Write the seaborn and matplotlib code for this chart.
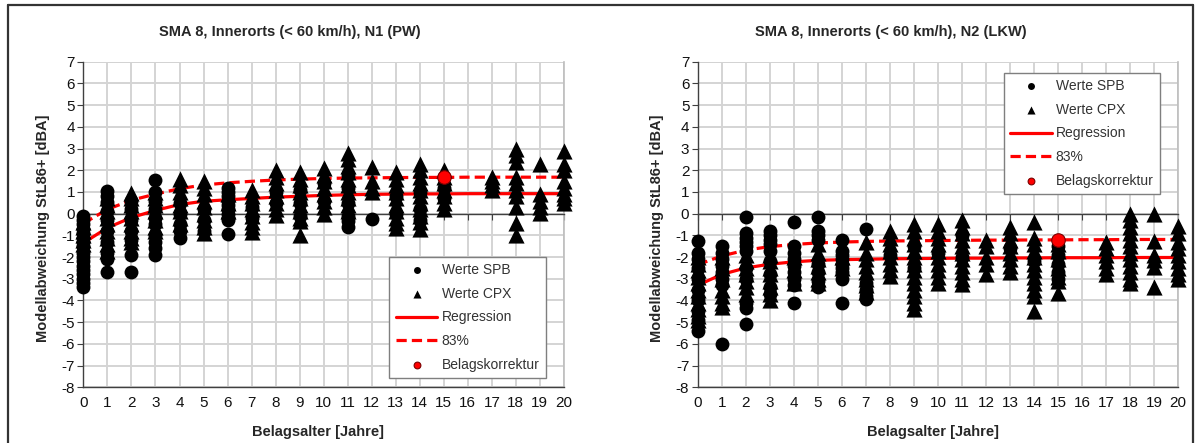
import matplotlib
matplotlib.use("Agg")
import matplotlib.pyplot as plt
from matplotlib.lines import Line2D
import numpy as np
import pandas as pd
import seaborn as sns

# ---------------------------------------------------------------- data
ages = list(range(21))

# N1 (PW) -- deviations per pavement age
pw_spb = {
    0: [-0.1, -0.3, -0.5, -0.7, -0.9, -1.1, -1.3, -1.5, -1.8, -2.0, -2.2, -2.4, -2.6, -2.8, -3.0, -3.2, -3.4],
    1: [1.05, 0.8, 0.55, 0.1, -0.3, -0.8, -1.3, -1.8, -2.1, -2.7],
    2: [0.6, 0.2, -0.3, -0.8, -1.2, -1.9, -2.7],
    3: [1.55, 1.0, 0.6, 0.2, -0.2, -0.5, -1.0, -1.3, -1.6, -1.9],
    4: [0.5, 0.0, -0.5, -0.8, -1.1],
    5: [0.2, -0.3, -0.8],
    6: [1.2, 1.0, 0.8, 0.6, 0.4, 0.2, 0.0, -0.2, -0.3, -0.95],
    7: [0.3, -0.2],
    8: [1.0, 0.5],
    9: [1.1, 0.5, -0.1],
    10: [1.4, 0.6],
    11: [1.8, 1.2, 0.5, -0.1, -0.35, -0.6],
    12: [-0.25],
    13: [0.8, 0.0],
    14: [1.0, 0.2, -0.3],
    15: [1.2, 0.7],
}
pw_cpx = {
    0: [-0.4, -0.6, -0.8, -1.0, -1.2, -1.4],
    1: [0.7, 0.4, 0.1, -0.2, -0.5, -0.8, -1.1, -1.4, -1.7],
    2: [0.95, 0.7, 0.4, 0.1, -0.2, -0.5, -0.8, -1.1, -1.3],
    3: [1.0, 0.7, 0.4, 0.1, -0.3, -0.6, -0.8],
    4: [1.6, 1.3, 1.0, 0.7, 0.4, 0.1, -0.2, -0.5],
    5: [1.5, 1.2, 0.9, 0.6, 0.3, 0.0, -0.3, -0.6, -0.9],
    6: [0.9, 0.5, 0.1],
    7: [1.1, 0.8, 0.5, 0.2, -0.1, -0.4, -0.6, -0.85],
    8: [2.0, 1.7, 1.4, 1.1, 0.8, 0.5, 0.2, -0.05],
    9: [1.9, 1.6, 1.3, 1.0, 0.7, 0.4, 0.1, -0.2, -0.35, -1.0],
    10: [2.1, 1.8, 1.5, 1.2, 0.9, 0.6, 0.3, 0.0],
    11: [2.8, 2.5, 2.2, 1.9, 1.6, 1.3, 1.0, 0.7, 0.4, 0.1],
    12: [2.15, 1.5, 1.2, 1.0],
    13: [1.9, 1.6, 1.3, 1.0, 0.7, 0.4, 0.1, -0.2, -0.45, -0.65],
    14: [2.3, 2.0, 1.7, 1.4, 1.1, 0.8, 0.5, 0.2, -0.1, -0.4, -0.7],
    15: [2.0, 1.7, 1.4, 1.1, 0.8, 0.5, 0.2],
    17: [1.7, 1.5, 1.3, 1.1],
    18: [3.0, 2.7, 2.4, 1.7, 1.4, 1.1, 0.8, 0.3, -0.45, -1.0],
    19: [2.3, 0.9, 0.6, 0.3, 0.05],
    20: [2.9, 2.3, 2.0, 1.5, 1.2, 0.9, 0.7, 0.5],
}
pw_reg = [-1.35, -0.65, -0.18, 0.15, 0.42, 0.57, 0.64, 0.70, 0.76, 0.80, 0.84, 0.87,
          0.89, 0.90, 0.91, 0.91, 0.92, 0.92, 0.92, 0.92, 0.92]
pw_p83 = [-0.45, 0.20, 0.62, 0.90, 1.15, 1.32, 1.42, 1.49, 1.55, 1.59, 1.62, 1.64,
          1.65, 1.66, 1.67, 1.67, 1.68, 1.68, 1.68, 1.68, 1.68]
pw_corr = (15, 1.7)

# N2 (LKW)
lkw_spb = {
    0: [-1.25, -1.8, -2.1, -2.5, -3.0, -3.5, -4.0, -4.5, -4.9, -5.4],
    1: [-1.5, -1.8, -2.1, -2.4, -2.7, -3.0, -3.3, -6.0],
    2: [-0.15, -0.9, -1.1, -1.3, -1.5, -1.7, -2.5, -3.0, -4.1, -4.35, -5.1],
    3: [-0.8, -1.0, -1.2, -1.4, -1.7, -2.2, -2.8, -3.4, -3.7],
    4: [-0.4, -1.5, -1.8, -2.1, -2.4, -2.7, -3.0, -3.3, -4.1],
    5: [-0.15, -0.8, -1.0, -1.2, -2.3, -2.7, -3.1, -3.4],
    6: [-1.2, -1.7, -1.9, -2.1, -2.3, -2.5, -2.7, -3.0, -4.1],
    7: [-0.7, -3.2, -3.5, -3.8, -3.95],
    8: [-1.9],
    9: [-1.5, -2.5],
    10: [-1.8],
    11: [-1.0, -2.0],
    13: [-1.6],
    14: [-2.2],
    15: [-1.5, -1.9, -2.3, -2.7, -3.0],
}
lkw_cpx = {
    0: [-2.0, -2.3, -2.6, -2.9, -3.2, -3.5, -3.8, -4.1, -4.4, -4.7, -4.9],
    1: [-2.0, -2.5, -3.0, -3.5, -3.8, -4.1, -4.3],
    2: [-1.9, -2.2, -2.5, -2.8, -3.1, -3.4, -3.7],
    3: [-1.9, -2.2, -2.5, -2.8, -3.1, -3.4, -3.7, -4.0],
    4: [-2.0, -2.6, -3.2],
    5: [-1.4, -1.8, -2.1, -2.4, -2.7, -3.0, -3.2],
    6: [-2.0, -2.5],
    7: [-1.3, -1.8, -2.1, -2.4, -2.7, -3.0, -3.3, -3.6],
    8: [-0.8, -1.1, -1.4, -1.7, -2.0, -2.3, -2.6, -2.85],
    9: [-0.5, -0.8, -1.1, -1.4, -1.7, -2.0, -2.3, -2.6, -2.9, -3.2, -3.5, -3.8, -4.1, -4.4],
    10: [-0.5, -0.8, -1.1, -1.4, -1.7, -2.0, -2.3, -2.6, -2.9, -3.2],
    11: [-0.3, -0.6, -0.9, -1.2, -1.5, -1.8, -2.1, -2.4, -2.7, -3.0, -3.25],
    12: [-1.2, -1.5, -2.0, -2.3, -2.8],
    13: [-0.6, -0.9, -1.2, -1.5, -1.8, -2.1, -2.4, -2.7],
    14: [-0.4, -1.1, -1.4, -1.7, -2.0, -2.3, -2.6, -2.9, -3.2, -3.5, -3.8, -4.5],
    15: [-1.4, -1.7, -2.1, -2.5, -2.9, -3.1, -3.65],
    17: [-1.3, -1.6, -1.9, -2.2, -2.5, -2.8],
    18: [0.0, -0.3, -0.6, -0.9, -1.2, -1.5, -1.8, -2.1, -2.4, -2.7, -3.0, -3.2],
    19: [0.0, -1.25, -1.9, -2.15, -2.45, -3.4],
    20: [-0.55, -0.9, -1.3, -1.6, -1.9, -2.2, -2.5, -2.8, -3.0],
}
lkw_reg = [-3.30, -2.80, -2.50, -2.33, -2.22, -2.15, -2.12, -2.10, -2.08, -2.07, -2.06,
           -2.05, -2.05, -2.04, -2.04, -2.03, -2.03, -2.03, -2.02, -2.02, -2.02]
lkw_p83 = [-2.35, -1.95, -1.68, -1.52, -1.42, -1.35, -1.31, -1.28, -1.26, -1.25, -1.24,
           -1.23, -1.22, -1.22, -1.21, -1.21, -1.20, -1.20, -1.19, -1.19, -1.19]
lkw_corr = (15, -1.2)

titles = ["SMA 8, Innerorts (< 60 km/h), N1 (PW)",
          "SMA 8, Innerorts (< 60 km/h), N2 (LKW)"]
xlabel = "Belagsalter [Jahre]"
ylabel = "Modellabweichung StL86+ [dBA]"
legend_labels = ["Werte SPB", "Werte CPX", "Regression", "83%", "Belagskorrektur"]
yticks = list(range(-8, 8))


def long_frame(d):
    rows = [(a, v) for a, vals in d.items() for v in vals]
    return pd.DataFrame(rows, columns=["alter", "abw"])


# ---------------------------------------------------------------- style
sns.set_style("white")
plt.rcParams["font.family"] = ["Liberation Sans", "DejaVu Sans"]
plt.rcParams["font.size"] = 10
plt.rcParams["axes.unicode_minus"] = False

W, H = 1195, 443
fig = plt.figure(figsize=(W / 100, H / 100), dpi=100)
fig.patch.set_facecolor("white")

GRID = "#d4d4d4"
AXC = "#404040"
RED = "#ff0000"

panels = [
    dict(spb=pw_spb, cpx=pw_cpx, reg=pw_reg, p83=pw_p83, corr=pw_corr,
         left=83.4, title_x=290, legend_xy=(0.637, 0.401)),
    dict(spb=lkw_spb, cpx=lkw_cpx, reg=lkw_reg, p83=lkw_p83, corr=lkw_corr,
         left=697.7, title_x=891, legend_xy=(0.637, 0.966)),
]

ax_w = 480.5 / W
ax_b = (H - 387.3) / H
ax_h = 325.6 / H

for i, p in enumerate(panels):
    ax = fig.add_axes([p["left"] / W, ax_b, ax_w, ax_h])
    ax.set_facecolor("white")

    curves = pd.DataFrame({"alter": ages, "reg": p["reg"], "p83": p["p83"]})
    sns.lineplot(data=curves, x="alter", y="reg", color=RED, lw=2.3, ax=ax,
                 label=legend_labels[2], zorder=3)
    sns.lineplot(data=curves, x="alter", y="p83", color=RED, lw=2.3, ax=ax,
                 label=legend_labels[3], zorder=3)
    ax.lines[-1].set_linestyle((0, (3.2, 1.6)))

    sns.scatterplot(data=long_frame(p["cpx"]), x="alter", y="abw", marker="^",
                    color="black", s=135, linewidth=0, ax=ax, clip_on=False,
                    label=legend_labels[1], zorder=4)
    sns.scatterplot(data=long_frame(p["spb"]), x="alter", y="abw", marker="o",
                    color="black", s=100, linewidth=0, ax=ax, clip_on=False,
                    label=legend_labels[0], zorder=5)
    corr = pd.DataFrame({"alter": [p["corr"][0]], "abw": [p["corr"][1]]})
    sns.scatterplot(data=corr, x="alter", y="abw", marker="o", color=RED,
                    edgecolor="#7a0000", linewidth=0.8, s=95, ax=ax, clip_on=False,
                    label=legend_labels[4], zorder=6)

    ax.set_xlim(0, 20)
    ax.set_ylim(-8, 7)
    ax.set_xticks(ages)
    ax.set_yticks(yticks)
    ax.grid(True, color=GRID, lw=1.4, zorder=0)
    ax.set_axisbelow(True)

    # frame: dark left/bottom, light right; the top spine doubles as the zero line
    for s in ("left", "bottom"):
        ax.spines[s].set_color(AXC)
        ax.spines[s].set_linewidth(1.0)
    ax.spines["right"].set_color("#bdbdbd")
    ax.spines["right"].set_linewidth(1.2)
    ax.spines["top"].set_position(("data", 0))
    ax.spines["top"].set_color(AXC)
    ax.spines["top"].set_linewidth(1.0)
    ax.axhline(7, color="#bdbdbd", lw=1.2, zorder=0.5)

    ax.tick_params(axis="x", which="both", bottom=False, top=True, labeltop=False,
                   direction="in", length=4, color=AXC, labelsize=11, pad=6,
                   labelcolor="#111111")
    ax.tick_params(axis="y", left=True, direction="out", length=4, color=AXC,
                   labelsize=11, pad=2, labelcolor="#111111")

    ax.set_xlabel(xlabel, fontsize=10.5, fontweight="bold")
    ax.xaxis.set_label_coords(235 / 480.5, -0.137)
    ax.xaxis.label.set_va("center")
    ax.set_ylabel(ylabel, fontsize=10.5, fontweight="bold")
    ax.yaxis.set_label_coords(-0.085, 0.489)
    ax.yaxis.label.set_va("center")

    fig.text(p["title_x"] / W, 1 - 32 / H, titles[i], ha="center", va="center",
             fontsize=10.5, fontweight="bold")

    handles, labels = ax.get_legend_handles_labels()
    lut = dict(zip(labels, handles))
    leg = ax.legend([lut[l] for l in legend_labels], legend_labels,
                    loc="upper left", bbox_to_anchor=p["legend_xy"],
                    borderaxespad=0, frameon=True, fancybox=False,
                    edgecolor="#7f7f7f", framealpha=1, fontsize=10,
                    handlelength=3.0, handletextpad=0.3, labelspacing=0.7,
                    borderpad=0.45, markerscale=0.5)
    leg.get_frame().set_linewidth(1.0)
    for t in leg.get_texts():
        t.set_color("#333333")

# outer frame of the two charts
for (x0, y0, x1, y1) in [(7.5, 5, 1193, 5), (7.5, 5, 7.5, H), (1193, 5, 1193, H)]:
    fig.add_artist(Line2D([x0 / W, x1 / W], [1 - y0 / H, 1 - y1 / H],
                          color="#333333", lw=1.6))

fig.savefig("out.png", dpi=100, facecolor="white")
